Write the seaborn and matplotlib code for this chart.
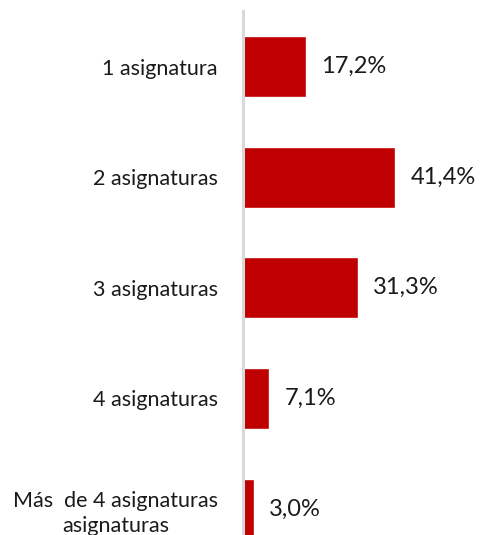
import matplotlib
matplotlib.use("Agg")
import matplotlib.pyplot as plt
import seaborn as sns
import pandas as pd

categories = ["1 asignatura", "2 asignaturas", "3 asignaturas", "4 asignaturas",
              "Más  de 4 asignaturas\nasignaturas"]
values = [17.2, 41.4, 31.3, 7.1, 3.0]

df = pd.DataFrame({"cat": categories, "val": values})

sns.set_style("white")
plt.rcParams['font.family'] = ['Lato', 'DejaVu Sans']

fig = plt.figure(figsize=(4.84, 5.35), dpi=100)
ax = fig.add_axes([0.502, 0.0, 0.498, 0.979])

sns.barplot(data=df, x="val", y="cat", orient="h", color="#C00000",
            saturation=1, width=0.55, ax=ax)

ax.set_xlim(0, 65.6)
ax.set_ylim(4.235, -0.501)
ax.set_xlabel("")
ax.set_ylabel("")
ax.set_xticks([])
for s in ["top", "right", "bottom"]:
    ax.spines[s].set_visible(False)
ax.spines["left"].set_color("#d9d9d9")
ax.spines["left"].set_linewidth(2.2)
ax.tick_params(axis="y", length=0, pad=18, labelsize=15.5, labelcolor="#1a1a1a")
for lab in ax.get_yticklabels():
    lab.set_multialignment("center")
    lab.set_linespacing(1.3)

labels = [f"{v:.1f}%".replace(".", ",") for v in values]
ax.bar_label(ax.containers[0], labels=labels, padding=11, fontsize=17, color="#1a1a1a")

fig.savefig("out.png", dpi=100)
